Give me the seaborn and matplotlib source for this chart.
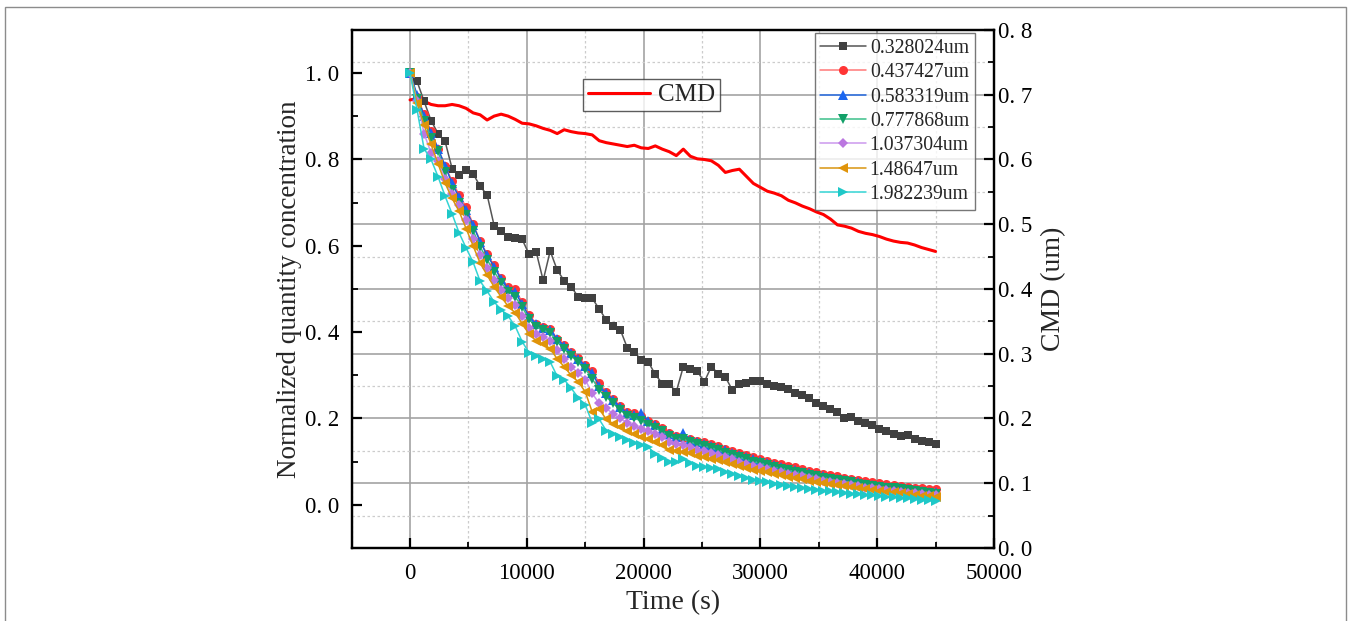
import numpy as np
import matplotlib
matplotlib.use("Agg")
import matplotlib.pyplot as plt
import seaborn as sns
from matplotlib.ticker import MultipleLocator, FuncFormatter
from matplotlib.patches import Rectangle

time_s = np.arange(0, 45001, 600)

size_labels = ['0.328024um', '0.437427um', '0.583319um', '0.777868um',
               '1.037304um', '1.48647um', '1.982239um']

conc_0328 = [1.000, 0.981, 0.935, 0.890, 0.860, 0.842, 0.779, 0.765, 0.775, 0.767,
             0.738, 0.718, 0.647, 0.634, 0.620, 0.619, 0.615, 0.580, 0.586, 0.520,
             0.588, 0.544, 0.519, 0.505, 0.482, 0.478, 0.478, 0.454, 0.428, 0.414,
             0.406, 0.364, 0.355, 0.335, 0.331, 0.302, 0.281, 0.279, 0.262, 0.320,
             0.314, 0.309, 0.285, 0.320, 0.304, 0.296, 0.266, 0.279, 0.283, 0.287,
             0.287, 0.279, 0.275, 0.272, 0.268, 0.260, 0.255, 0.248, 0.237, 0.229,
             0.221, 0.214, 0.201, 0.204, 0.194, 0.190, 0.185, 0.175, 0.171, 0.165,
             0.160, 0.162, 0.152, 0.148, 0.146, 0.140]
conc_0437 = [1.000, 0.945, 0.905, 0.865, 0.825, 0.785, 0.750, 0.718, 0.690, 0.650,
             0.612, 0.580, 0.555, 0.525, 0.505, 0.499, 0.470, 0.440, 0.420, 0.413,
             0.407, 0.385, 0.370, 0.355, 0.340, 0.325, 0.310, 0.282, 0.262, 0.245,
             0.228, 0.215, 0.212, 0.205, 0.195, 0.187, 0.178, 0.166, 0.160, 0.155,
             0.152, 0.148, 0.145, 0.141, 0.136, 0.130, 0.124, 0.120, 0.115, 0.110,
             0.106, 0.102, 0.098, 0.095, 0.091, 0.087, 0.083, 0.079, 0.076, 0.072,
             0.069, 0.066, 0.062, 0.059, 0.057, 0.054, 0.052, 0.050, 0.048, 0.046,
             0.044, 0.042, 0.040, 0.039, 0.037, 0.036]
conc_0583 = [1.000, 0.950, 0.900, 0.862, 0.825, 0.785, 0.745, 0.712, 0.683, 0.648,
             0.610, 0.578, 0.552, 0.522, 0.500, 0.492, 0.465, 0.436, 0.418, 0.410,
             0.404, 0.383, 0.368, 0.352, 0.337, 0.322, 0.305, 0.275, 0.258, 0.242,
             0.226, 0.212, 0.208, 0.212, 0.193, 0.184, 0.174, 0.163, 0.156, 0.167,
             0.150, 0.146, 0.141, 0.137, 0.132, 0.126, 0.120, 0.115, 0.110, 0.105,
             0.101, 0.096, 0.092, 0.088, 0.084, 0.080, 0.077, 0.073, 0.070, 0.066,
             0.063, 0.060, 0.057, 0.054, 0.052, 0.049, 0.047, 0.044, 0.042, 0.040,
             0.038, 0.036, 0.034, 0.032, 0.030, 0.029]
conc_0778 = [1.000, 0.940, 0.890, 0.850, 0.819, 0.770, 0.730, 0.700, 0.672, 0.635,
             0.598, 0.568, 0.540, 0.515, 0.494, 0.482, 0.458, 0.430, 0.412, 0.405,
             0.398, 0.378, 0.362, 0.345, 0.330, 0.315, 0.292, 0.266, 0.250, 0.235,
             0.220, 0.206, 0.200, 0.195, 0.186, 0.178, 0.170, 0.160, 0.153, 0.152,
             0.146, 0.140, 0.136, 0.132, 0.127, 0.121, 0.115, 0.110, 0.105, 0.100,
             0.096, 0.092, 0.088, 0.084, 0.080, 0.077, 0.073, 0.070, 0.066, 0.063,
             0.060, 0.057, 0.054, 0.052, 0.049, 0.047, 0.044, 0.042, 0.040, 0.038,
             0.036, 0.034, 0.032, 0.030, 0.028, 0.026]
conc_1037 = [1.000, 0.935, 0.860, 0.815, 0.796, 0.754, 0.720, 0.694, 0.660, 0.615,
             0.578, 0.548, 0.520, 0.498, 0.478, 0.462, 0.438, 0.410, 0.395, 0.388,
             0.380, 0.358, 0.338, 0.320, 0.305, 0.290, 0.258, 0.235, 0.224, 0.210,
             0.200, 0.190, 0.182, 0.176, 0.170, 0.163, 0.156, 0.146, 0.142, 0.138,
             0.134, 0.128, 0.124, 0.120, 0.116, 0.111, 0.105, 0.100, 0.095, 0.091,
             0.087, 0.083, 0.079, 0.076, 0.072, 0.069, 0.066, 0.062, 0.059, 0.056,
             0.053, 0.050, 0.048, 0.045, 0.043, 0.040, 0.038, 0.036, 0.034, 0.032,
             0.030, 0.028, 0.027, 0.025, 0.023, 0.022]
conc_1486 = [1.000, 0.930, 0.880, 0.835, 0.790, 0.745, 0.710, 0.680, 0.640, 0.600,
             0.560, 0.532, 0.505, 0.482, 0.460, 0.445, 0.420, 0.395, 0.380, 0.372,
             0.362, 0.338, 0.320, 0.300, 0.285, 0.262, 0.215, 0.222, 0.198, 0.188,
             0.180, 0.170, 0.163, 0.158, 0.152, 0.145, 0.138, 0.128, 0.125, 0.122,
             0.119, 0.113, 0.110, 0.107, 0.104, 0.099, 0.094, 0.090, 0.086, 0.081,
             0.078, 0.075, 0.071, 0.068, 0.065, 0.062, 0.059, 0.056, 0.053, 0.050,
             0.048, 0.045, 0.043, 0.041, 0.038, 0.036, 0.034, 0.032, 0.030, 0.029,
             0.027, 0.025, 0.023, 0.021, 0.020, 0.018]
conc_1982 = [1.000, 0.915, 0.825, 0.800, 0.760, 0.715, 0.674, 0.630, 0.595, 0.562,
             0.518, 0.495, 0.470, 0.452, 0.437, 0.414, 0.378, 0.352, 0.345, 0.338,
             0.331, 0.298, 0.290, 0.270, 0.248, 0.232, 0.190, 0.198, 0.172, 0.165,
             0.157, 0.150, 0.143, 0.138, 0.134, 0.118, 0.108, 0.100, 0.099, 0.105,
             0.097, 0.091, 0.088, 0.085, 0.082, 0.076, 0.071, 0.066, 0.062, 0.058,
             0.055, 0.052, 0.048, 0.046, 0.043, 0.041, 0.039, 0.037, 0.035, 0.033,
             0.031, 0.029, 0.028, 0.026, 0.025, 0.023, 0.022, 0.020, 0.019, 0.018,
             0.016, 0.015, 0.013, 0.012, 0.010, 0.009]

cmd_um = [0.692, 0.694, 0.690, 0.685, 0.683, 0.683, 0.685, 0.683, 0.679, 0.672,
          0.669, 0.661, 0.667, 0.670, 0.667, 0.662, 0.656, 0.655, 0.652, 0.648,
          0.645, 0.640, 0.646, 0.643, 0.641, 0.640, 0.638, 0.629, 0.626, 0.624,
          0.622, 0.620, 0.622, 0.618, 0.617, 0.621, 0.616, 0.612, 0.606, 0.616,
          0.605, 0.601, 0.600, 0.598, 0.591, 0.580, 0.583, 0.585, 0.574, 0.563,
          0.557, 0.551, 0.548, 0.544, 0.537, 0.533, 0.528, 0.524, 0.519, 0.515,
          0.508, 0.499, 0.497, 0.494, 0.489, 0.486, 0.484, 0.481, 0.477, 0.474,
          0.472, 0.471, 0.468, 0.464, 0.461, 0.458]

series = [conc_0328, conc_0437, conc_0583, conc_0778, conc_1037, conc_1486, conc_1982]
markers = ['s', 'o', '^', 'v', 'D', '<', '>']
line_colors = ['#555555', '#ff7878', '#1a5fd6', '#3cc08a', '#cc99ee', '#d9950f', '#33d4d4']
marker_colors = ['#404040', '#ff3535', '#1a66f0', '#12a068', '#bb77e0', '#e0940a', '#1fc8c8']
marker_sizes = [6, 6.5, 6.5, 6.5, 5.5, 6.5, 6.5]

sns.set_theme(style='white')
plt.rcParams['font.family'] = ['Liberation Serif', 'DejaVu Serif']

fig = plt.figure(figsize=(13.51, 6.21), dpi=100)
ax = fig.add_axes([0.2603, 0.1176, 0.4754, 0.8341])
axc = ax.twinx()
ax.yaxis.tick_right()
ax.yaxis.set_label_position('right')
axc.yaxis.tick_left()
axc.yaxis.set_label_position('left')

# CMD on the bottom axes (right scale) together with the grid
sns.lineplot(x=time_s, y=cmd_um, ax=ax, color='#ff0000', linewidth=2.2, label='CMD')

for vals, lab, mk, lc, mc, ms in zip(series, size_labels, markers, line_colors,
                                     marker_colors, marker_sizes):
    sns.lineplot(x=time_s, y=vals, ax=axc, color=lc, linewidth=1.1, marker=mk,
                 markersize=ms, markerfacecolor=mc, markeredgecolor=mc,
                 markeredgewidth=0, label=lab)

ax.set_xlim(-5000, 50000)
ax.set_ylim(0, 0.8)
axc.set_ylim(-0.1, 1.1)

ax.xaxis.set_major_locator(MultipleLocator(10000))
ax.xaxis.set_minor_locator(MultipleLocator(5000))
ax.yaxis.set_major_locator(MultipleLocator(0.1))
ax.yaxis.set_minor_locator(MultipleLocator(0.05))
axc.yaxis.set_major_locator(MultipleLocator(0.2))
axc.yaxis.set_minor_locator(MultipleLocator(0.1))

fmt = FuncFormatter(lambda v, p: '{:.1f}'.format(v).replace('-0.0', '0.0').replace('.', '. '))
ax.yaxis.set_major_formatter(fmt)
axc.yaxis.set_major_formatter(fmt)
ax.xaxis.set_major_formatter(FuncFormatter(lambda v, p: '{:d}'.format(int(round(v)))))

ax.grid(True, which='major', color='#a3a3a3', linewidth=1.2, linestyle='-')
ax.grid(True, which='minor', color='#cccccc', linewidth=0.9, linestyle=(0, (2, 2)))
axc.grid(False)
axc.patch.set_visible(False)
ax.set_axisbelow(True)

for a in (ax, axc):
    for sp in a.spines.values():
        sp.set_color('black')
        sp.set_linewidth(1.6)

ax.tick_params(axis='x', which='both', direction='in', bottom=True, top=False,
               colors='black', labelsize=16.5, pad=11)
ax.tick_params(axis='x', which='major', length=7, width=1.6)
ax.tick_params(axis='x', which='minor', length=4, width=1.3)
ax.tick_params(axis='y', which='both', direction='in', left=False, right=True,
               labelleft=False, labelright=True, colors='black', labelsize=16.5, pad=3)
ax.tick_params(axis='y', which='major', length=7, width=1.6)
ax.tick_params(axis='y', which='minor', length=4, width=1.3)
axc.tick_params(axis='y', which='both', direction='in', left=True, right=False,
                labelleft=True, labelright=False, colors='black', labelsize=16.5, pad=9)
axc.tick_params(axis='y', which='major', length=7, width=1.6)
axc.tick_params(axis='y', which='minor', length=4, width=1.3)

ax.set_xlabel('Time (s)', fontsize=20, labelpad=4)
ax.set_ylabel('CMD (um)', fontsize=20, labelpad=6)
axc.set_ylabel('Normalized quantity concentration', fontsize=19.5, labelpad=2)

leg_cmd = ax.legend(loc='upper left', bbox_to_anchor=(0.3597, 0.9054), fontsize=18,
                    frameon=True, fancybox=False, edgecolor='#333333',
                    handlelength=2.5, borderpad=0.2, borderaxespad=0, handletextpad=0.3)
leg_cmd.get_frame().set_linewidth(1.0)

leg = axc.legend(loc='upper right', bbox_to_anchor=(0.9704, 0.9942), fontsize=14.2,
                 frameon=True, fancybox=False, edgecolor='#555555',
                 handlelength=2.3, borderpad=0.3, borderaxespad=0, labelspacing=0.27,
                 handletextpad=0.2)
leg.get_frame().set_linewidth(1.0)

fig.patches.append(Rectangle((0.0037, -0.01), 0.9926, 0.9987, transform=fig.transFigure,
                             fill=False, edgecolor='#8c8c8c', linewidth=1.0))

fig.savefig('out.png', dpi=100)
